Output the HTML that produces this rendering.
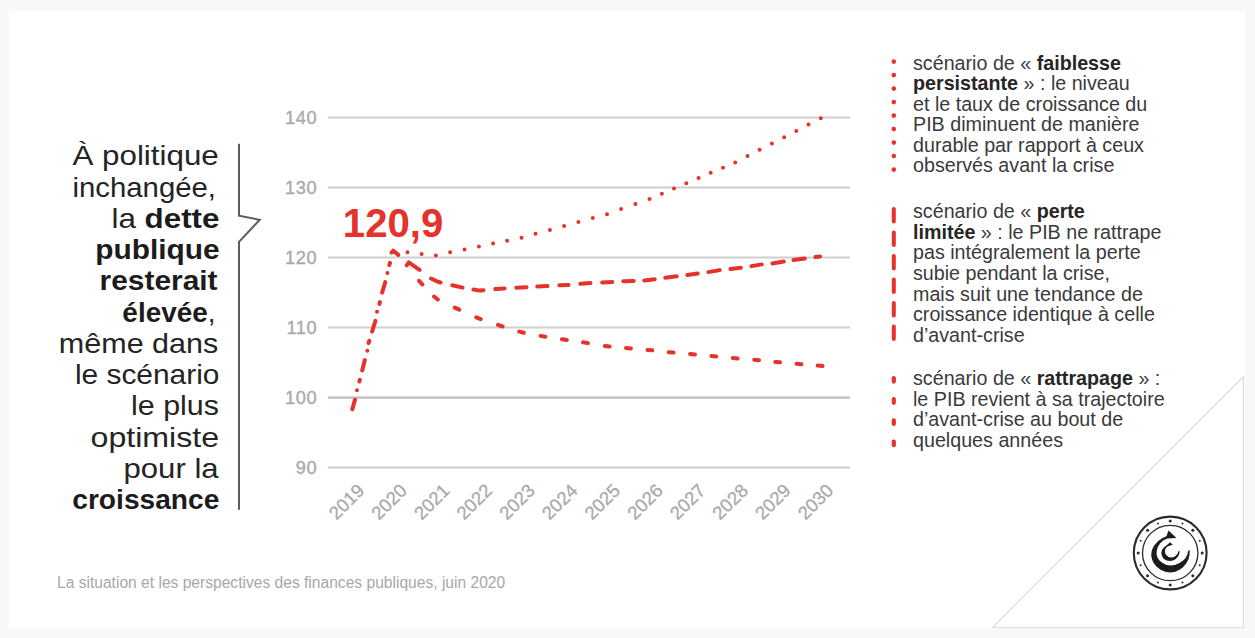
<!DOCTYPE html>
<html><head><meta charset="utf-8">
<style>
html,body{margin:0;padding:0;}
body{width:1255px;height:638px;background:#f8f8f8;position:relative;overflow:hidden;font-family:"Liberation Sans",sans-serif;}
#card{position:absolute;left:9px;top:11px;width:1235.5px;height:617px;background:#fff;}
.lt{position:absolute;font-size:28px;color:#242424;white-space:nowrap;line-height:31.25px;text-align:right;}
.lt span{display:inline-block;transform-origin:100% 50%;}
.lg{position:absolute;left:913px;font-size:19.7px;color:#3a3a3a;white-space:nowrap;line-height:20.6px;}
b{font-weight:bold;color:#1c1c1c;}
.lg b{color:#262626;}
svg{position:absolute;left:0;top:0;}
.foot{position:absolute;left:57px;top:573.5px;font-size:15.6px;color:#a8a8a8;white-space:nowrap;}
</style></head><body>
<div id="card"></div>
<svg width="1255" height="638" viewBox="0 0 1255 638">
  <path d="M992.5 627.5 L1243.5 376.5 L1243.5 627.5 Z" fill="none" stroke="#dcdcdc" stroke-width="1.2"/>
  <g stroke="#cfcfcf" stroke-width="2">
    <line x1="328" y1="117.5" x2="850" y2="117.5"/>
    <line x1="328" y1="187.5" x2="850" y2="187.5"/>
    <line x1="328" y1="257.5" x2="850" y2="257.5"/>
    <line x1="328" y1="327.5" x2="850" y2="327.5"/>
    <line x1="328" y1="397.6" x2="850" y2="397.6" stroke-width="2.8" stroke="#c8c8c8"/>
    <line x1="328" y1="467.5" x2="850" y2="467.5"/>
  </g>
  <g fill="#a9a9a9" stroke="#a9a9a9" stroke-width="0.35" font-family="Liberation Sans" font-size="18.2" letter-spacing="0.6" text-anchor="end">
    <text x="317.2" y="123.7">140</text>
    <text x="317.2" y="193.7">130</text>
    <text x="317.2" y="263.7">120</text>
    <text x="317.2" y="333.7">110</text>
    <text x="317.2" y="403.7">100</text>
    <text x="317.2" y="473.7">90</text>
  </g>
  <g fill="#aaaaaa" stroke="#aaaaaa" stroke-width="0.3" font-family="Liberation Sans" font-size="18.5" text-anchor="end">
<text transform="translate(357.0,483.2) rotate(-45)" x="0" y="12">2019</text>
<text transform="translate(399.6,483.2) rotate(-45)" x="0" y="12">2020</text>
<text transform="translate(442.3,483.2) rotate(-45)" x="0" y="12">2021</text>
<text transform="translate(484.9,483.2) rotate(-45)" x="0" y="12">2022</text>
<text transform="translate(527.5,483.2) rotate(-45)" x="0" y="12">2023</text>
<text transform="translate(570.2,483.2) rotate(-45)" x="0" y="12">2024</text>
<text transform="translate(612.8,483.2) rotate(-45)" x="0" y="12">2025</text>
<text transform="translate(655.5,483.2) rotate(-45)" x="0" y="12">2026</text>
<text transform="translate(698.1,483.2) rotate(-45)" x="0" y="12">2027</text>
<text transform="translate(740.7,483.2) rotate(-45)" x="0" y="12">2028</text>
<text transform="translate(783.4,483.2) rotate(-45)" x="0" y="12">2029</text>
<text transform="translate(826.0,483.2) rotate(-45)" x="0" y="12">2030</text>
  </g>
  <path d="M352.3 409.3L355.0 399.6M357.0 390.3l0.01 0M359.4 381.5L359.8 379.8M362.2 370.4L364.8 360.1M367.3 350.8l0.01 0M368.6 343.0L369.3 340.9M372.1 331.6L375.4 320.9M377.0 311.7l0.01 0M379.4 303.9L379.9 302.1M382.1 292.6L385.3 282.1M387.4 273.0l0.01 0M389.3 265.1L390.0 262.9M391.6 252.6L393.3 250.7L398.3 254.9M406.7 265.3L408.7 262.4L419.6 269.8M431.1 278.5L436.8 281.3L440.6 282.5M452.3 285.2L462.5 287.6M473.4 289.5L479.8 290.6L483.5 290.2M495.3 289.1L504.5 288.4M516.3 287.7L526.5 287.2M537.3 286.5L547.5 286.1M559.3 285.2L568.5 284.9M580.3 283.8L590.5 283.1M602.2 282.4L612.3 281.9M623.3 281.2L633.7 280.9M644.3 280.6L654.7 279.2M665.3 277.7L676.7 276.2M687.3 275.0L697.7 273.5M708.4 272.1L719.7 270.1M730.4 269.1L740.8 267.8M751.4 266.1L761.8 264.4M772.5 263.5L783.8 261.5M793.5 260.1L804.8 258.6M815.5 257.1L820.1 256.4M419.1 280.8L422.3 284.4M434.0 296.5L437.8 299.5M454.8 307.6L459.2 309.6M476.3 317.3L480.7 319.1M498.0 324.9L502.6 326.5M519.2 331.6L523.8 332.8M540.5 335.9L545.3 336.7M562.0 339.2L566.8 340.0M583.1 342.3L587.9 343.1M604.8 345.9L609.6 346.5M626.1 348.0L630.9 348.4M647.5 349.9L652.3 350.3M668.7 352.2L673.5 352.6M690.1 354.1L694.9 354.5M711.4 356.0L716.2 356.4M732.8 358.1L737.6 358.5M754.2 359.8L759.0 360.2M775.2 361.9L780.0 362.3M796.6 363.8L801.4 364.2M817.7 365.6L822.5 366.0M407.5 252.2l0.01 0M421.6 254.0l0.01 0M435.9 255.4l0.01 0M450.1 252.2l0.01 0M464.5 249.6l0.01 0M478.9 246.6l0.01 0M493.1 243.6l0.01 0M507.1 240.8l0.01 0M521.5 237.7l0.01 0M535.5 233.8l0.01 0M549.9 230.0l0.01 0M564.1 226.1l0.01 0M578.4 222.1l0.01 0M592.8 218.1l0.01 0M607.0 214.2l0.01 0M621.1 209.1l0.01 0M635.4 204.0l0.01 0M649.5 198.9l0.01 0M661.9 193.7l0.01 0M674.0 188.4l0.01 0M686.3 183.2l0.01 0M698.6 177.9l0.01 0M710.7 172.8l0.01 0M723.0 167.7l0.01 0M735.2 162.4l0.01 0M747.5 156.1l0.01 0M759.6 149.7l0.01 0M771.9 143.5l0.01 0M784.2 137.3l0.01 0M796.3 131.0l0.01 0M808.5 124.6l0.01 0M820.8 118.2l0.01 0" fill="none" stroke="#e5322b" stroke-width="4" stroke-linecap="round" stroke-linejoin="round"/>
  <text x="342.8" y="236.8" fill="#e5322b" font-family="Liberation Sans" font-weight="bold" font-size="40" textLength="100.5" lengthAdjust="spacingAndGlyphs">120,9</text>
  <path d="M239 143.8 L239 215.7 L259.7 219.8 L239 241.8 L239 509.8" fill="none" stroke="#5c5c5c" stroke-width="2" stroke-linejoin="miter"/>
  <g fill="#e5322b">
    <circle cx="893.8" cy="61.6" r="2.3"/><circle cx="893.8" cy="75.1" r="2.3"/><circle cx="893.8" cy="88.6" r="2.3"/><circle cx="893.8" cy="102.1" r="2.3"/><circle cx="893.8" cy="115.6" r="2.3"/><circle cx="893.8" cy="129.1" r="2.3"/><circle cx="893.8" cy="142.6" r="2.3"/><circle cx="893.8" cy="156.1" r="2.3"/><circle cx="893.8" cy="169.6" r="2.3"/>
  </g>
  <line x1="893.8" y1="209" x2="893.8" y2="341" stroke="#e5322b" stroke-width="4" stroke-linecap="round" stroke-dasharray="12.4 11.1"/>
  <line x1="893.8" y1="378" x2="893.8" y2="446" stroke="#e5322b" stroke-width="4.2" stroke-linecap="round" stroke-dasharray="3.6 17.6"/>
  <g transform="translate(1170.2,553)">
    <circle r="36.4" fill="none" stroke="#2b2b2b" stroke-width="2.1"/>
    <circle r="27.7" fill="none" stroke="#2b2b2b" stroke-width="1.3"/>
    <g fill="#2b2b2b"><circle cx="0.00" cy="-32.00" r="1.5"/><circle cx="12.25" cy="-29.56" r="1.0"/><circle cx="22.63" cy="-22.63" r="1.5"/><circle cx="29.56" cy="-12.25" r="1.0"/><circle cx="32.00" cy="0.00" r="1.5"/><circle cx="29.56" cy="12.25" r="1.0"/><circle cx="22.63" cy="22.63" r="1.5"/><circle cx="12.25" cy="29.56" r="1.0"/><circle cx="0.00" cy="32.00" r="1.5"/><circle cx="-12.25" cy="29.56" r="1.0"/><circle cx="-22.63" cy="22.63" r="1.5"/><circle cx="-29.56" cy="12.25" r="1.0"/><circle cx="-32.00" cy="0.00" r="1.5"/><circle cx="-29.56" cy="-12.25" r="1.0"/><circle cx="-22.63" cy="-22.63" r="1.5"/><circle cx="-12.25" cy="-29.56" r="1.0"/></g>
  </g>
  <g transform="translate(1170,554.1)" fill="#1c1c1c">
    <path d="M6.5,-16.2 L-1.5,-23.6 L-3.6,-17.8 L-7.5,-16 L-11.9,-13 L-15.8,-8.5 L-18.1,-4 L-18.8,1 L-18,5.5 L-16.4,9 L-13.6,12.5 L-9.5,15.6 L-4.8,17.6 L0,18.4 L4.8,17.8 L9,16 L12.8,13.3 L16,9.7 L18.3,5.7 L19.5,1 L19.8,-3.6 L18.3,-3.6 L17.4,0.4 L15.6,4 L12.6,7 L9,9.2 L4.9,10.8 L0.6,11.4 L-3.4,10.9 L-7,9.2 L-10.3,6.6 L-12.4,3.6 L-13.4,0.3 L-13.3,-3 L-12.3,-6.8 L-10,-10.6 L-6.6,-13.8 L-2.5,-15.6 Z"/>
    <path d="M2.8,-9.3 L0.1,-11.8 L-2.7,-9.3 L-5.6,-7.1 L-7.8,-4.5 L-8.7,-1.4 L-8.1,2 L-6.2,4.9 L-3.3,6.5 L0,7 L3,6.5 L5.8,5 L8.1,2.5 L9.3,-0.5 L9.7,-2.9 L8.4,-2.9 L7.5,-0.4 L6,1.4 L4,3 L1.5,3.5 L-1,3.2 L-3.2,1.5 L-4.6,-0.4 L-5.1,-2.8 L-4.6,-5.2 L-3.2,-7 L-1.1,-8.2 Z"/>
  </g>
</svg>
<div class="lt" style="top:140.30px;right:1035.8px"><span style="transform:scaleX(1.119)">À politique</span></div>
<div class="lt" style="top:171.55px;right:1039.3px"><span style="transform:scaleX(1.048)">inchangée,</span></div>
<div class="lt" style="top:202.80px;right:1035.8px"><span style="transform:scaleX(1.12)">la <b>dette</b></span></div>
<div class="lt" style="top:234.05px;right:1035.8px"><span style="transform:scaleX(1.066)"><b>publique</b></span></div>
<div class="lt" style="top:265.30px;right:1037.7px"><span style="transform:scaleX(1.067)"><b>resterait</b></span></div>
<div class="lt" style="top:296.55px;right:1039.9px"><span style="transform:scaleX(0.996)"><b>élevée</b>,</span></div>
<div class="lt" style="top:327.80px;right:1036.7px"><span style="transform:scaleX(1.09)">même dans</span></div>
<div class="lt" style="top:359.05px;right:1035.8px"><span style="transform:scaleX(1.067)">le scénario</span></div>
<div class="lt" style="top:390.30px;right:1036.4px"><span style="transform:scaleX(1.086)">le plus</span></div>
<div class="lt" style="top:421.55px;right:1035.8px"><span style="transform:scaleX(1.147)">optimiste</span></div>
<div class="lt" style="top:452.80px;right:1036.8px"><span style="transform:scaleX(1.111)">pour la</span></div>
<div class="lt" style="top:484.05px;right:1035.8px"><span style="transform:scaleX(1.005)"><b>croissance</b></span></div>

<div class="lg" style="top:52.5px">scénario de « <b>faiblesse</b><br><b>persistante</b> » : le niveau<br>et le taux de croissance du<br>PIB diminuent de manière<br>durable par rapport à ceux<br>observés avant la crise</div>
<div class="lg" style="top:201.3px">scénario de « <b>perte</b><br><b>limitée</b> » : le PIB ne rattrape<br>pas intégralement la perte<br>subie pendant la crise,<br>mais suit une tendance de<br>croissance identique à celle<br>d’avant-crise</div>
<div class="lg" style="top:368.3px">scénario de « <b>rattrapage</b> » :<br>le PIB revient à sa trajectoire<br>d’avant-crise au bout de<br>quelques années</div>
<div class="foot">La situation et les perspectives des finances publiques, juin 2020</div>
</body></html>
